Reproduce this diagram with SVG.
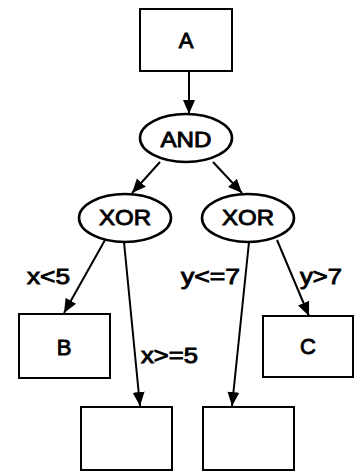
<svg xmlns="http://www.w3.org/2000/svg" width="355" height="472" viewBox="0 0 355 472">
<style>
.box{fill:#fff;stroke:#000;stroke-width:2}
.ell{fill:#fff;stroke:#000;stroke-width:2.6}
.t{font-family:"Liberation Sans",Arial,sans-serif;font-size:22px;fill:#000;stroke:#000;stroke-width:0.9}
.c{text-anchor:middle}
.e{fill:none;stroke:#000;stroke-width:2}
</style>
<defs>
<marker id="ah" markerUnits="userSpaceOnUse" markerWidth="16" markerHeight="16" viewBox="0 0 16 16" refX="14" refY="8" orient="auto">
<path d="M0,2 L14,8 L0,14 Z" fill="#000"/>
</marker>
</defs>
<rect width="355" height="472" fill="#fff"/>
<g id="edges">
<line class="e" x1="189" y1="71" x2="189" y2="114" marker-end="url(#ah)"/>
<line class="e" x1="160" y1="162" x2="132" y2="193" marker-end="url(#ah)"/>
<line class="e" x1="213" y1="162" x2="242" y2="193" marker-end="url(#ah)"/>
<line class="e" x1="105" y1="240" x2="64" y2="313" marker-end="url(#ah)"/>
<line class="e" x1="124" y1="242" x2="140" y2="406" marker-end="url(#ah)"/>
<line class="e" x1="249" y1="242" x2="232" y2="406" marker-end="url(#ah)"/>
<line class="e" x1="277" y1="240" x2="309" y2="316" marker-end="url(#ah)"/>
<text class="t" x="27" y="284" textLength="43" lengthAdjust="spacingAndGlyphs">x&lt;5</text>
<text class="t" x="141" y="363" textLength="57" lengthAdjust="spacingAndGlyphs">x&gt;=5</text>
<text class="t" x="181" y="284" textLength="59" lengthAdjust="spacingAndGlyphs">y&lt;=7</text>
<text class="t" x="300" y="284" textLength="42" lengthAdjust="spacingAndGlyphs">y&gt;7</text>
</g>
<g id="nodeA"><rect class="box" x="140" y="9" width="92" height="62"/><text class="t c" x="186" y="48">A</text></g>
<g id="nodeAND"><ellipse class="ell" cx="186" cy="138" rx="46" ry="24"/><text class="t c" x="186" y="147" textLength="51" lengthAdjust="spacingAndGlyphs">AND</text></g>
<g id="nodeXOR1"><ellipse class="ell" cx="125" cy="218" rx="46" ry="24"/><text class="t c" x="125" y="225" textLength="52" lengthAdjust="spacingAndGlyphs">XOR</text></g>
<g id="nodeXOR2"><ellipse class="ell" cx="248" cy="218" rx="46" ry="24"/><text class="t c" x="248" y="225" textLength="52" lengthAdjust="spacingAndGlyphs">XOR</text></g>
<g id="nodeB"><rect class="box" x="19" y="314" width="91" height="64"/><text class="t c" x="64" y="355">B</text></g>
<g id="nodeC"><rect class="box" x="263" y="316" width="90" height="61"/><text class="t c" x="308" y="354">C</text></g>
<g id="nodeL"><rect class="box" x="81" y="407" width="91" height="63"/></g>
<g id="nodeR"><rect class="box" x="203" y="407" width="91" height="63"/></g>
</svg>
